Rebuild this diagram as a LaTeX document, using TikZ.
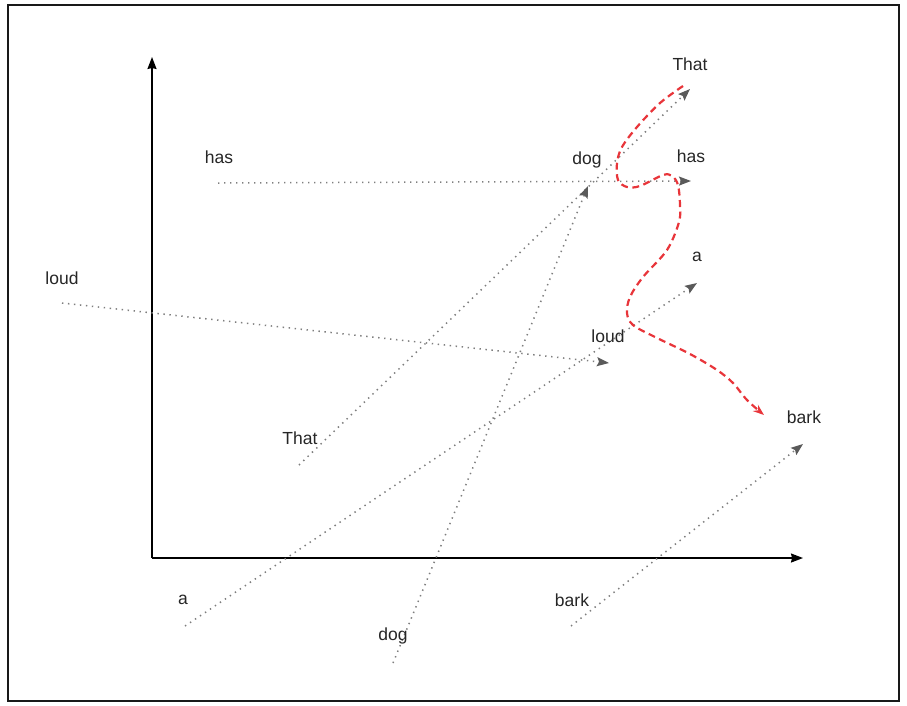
\documentclass[tikz,border=0pt]{standalone}
\usepackage{fontspec}
\setmainfont{Liberation Sans}
\usetikzlibrary{arrows.meta}
\definecolor{dotgray}{HTML}{7E7E7E}
\definecolor{tipgray}{HTML}{5A5A5A}
\definecolor{txtgray}{HTML}{262626}
\definecolor{curvered}{HTML}{E8353A}
\begin{document}
\begin{tikzpicture}[x=1pt,y=-1pt,
  lbl/.style={font=\fontsize{17.5}{20}\selectfont, text=txtgray, inner sep=0pt},
  dotline/.style={draw=dotgray, line width=1.5pt, dash pattern=on 1.4pt off 4.6pt,
    -{Stealth[length=12pt,width=9pt,inset=2pt,color=tipgray]}},
  axisline/.style={draw=black, line width=1.4pt, -{Stealth[length=12pt,width=9pt,inset=1pt]}},
  redcurve/.style={draw=curvered, line width=2.2pt, dash pattern=on 7pt off 4.5pt,
    -{Stealth[length=11pt,width=8pt,color=curvered]}}]
\useasboundingbox (0,0) rectangle (907,705);
\draw[line width=2pt, black!90] (8,5) rectangle (899,701);

% axes
\coordinate (O) at (152,558);
\coordinate (Ytip) at (152,57);
\coordinate (Xtip) at (803,558);
\draw[axisline] (O) -- (Ytip);
\draw[axisline] (O) -- (Xtip);

% endpoints
\coordinate (hasS) at (218,183);
\coordinate (hasE) at (691,181);
\coordinate (loudS) at (62,303);
\coordinate (loudE) at (609,363);
\coordinate (thatS) at (299,465);
\coordinate (thatE) at (690,89);
\coordinate (dogS) at (393,663);
\coordinate (dogE) at (588,186);
\coordinate (aS) at (185,626);
\coordinate (aE) at (697,283);
\coordinate (barkS) at (571,626);
\coordinate (barkE) at (803,444);

\draw[dotline] (hasS) -- (hasE);
\draw[dotline] (loudS) -- (loudE);
\draw[dotline] (thatS) -- (thatE);
\draw[dotline] (dogS) -- (dogE);
\draw[dotline] (aS) -- (aE);
\draw[dotline] (barkS) -- (barkE);

% labels
\node[lbl] (lThatT) at (690,64) {That};
\node[lbl] (lDogT) at (587,160) {dog};
\node[lbl] (lHasT) at (691,156) {has};
\node[lbl] (lHasL) at (219,157) {has};
\node[lbl] (lAT) at (697,257) {a};
\node[lbl] (lLoudL) at (62,278) {loud};
\node[lbl] (lLoudT) at (608,336) {loud};
\node[lbl] (lBarkT) at (804,417) {bark};
\node[lbl] (lThatL) at (300,438) {That};
\node[lbl] (lAL) at (183,600) {a};
\node[lbl] (lDogL) at (393,636) {dog};
\node[lbl] (lBarkL) at (572,600) {bark};

% red dashed curve
\draw[redcurve] plot[smooth, tension=0.55] coordinates {
  (683,86) (660,103) (637,127) (622,147) (617,163) (618,180) (627,187)
  (640,186) (663,175) (672,176) (678,185) (680,205) (679,222) (667,250)
  (643,277) (630,297) (627,313) (633,325) (655,337) (690,354) (717,370)
  (733,383) (747,400) (764,415)};
\end{tikzpicture}
\end{document}
